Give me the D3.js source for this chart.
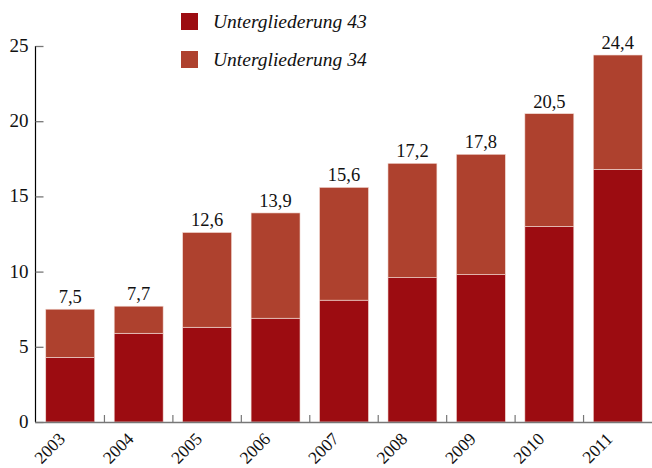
<!DOCTYPE html>
<html>
<head>
<meta charset="utf-8">
<script src="https://cdn.jsdelivr.net/npm/d3@7"></script>
<style>
  body { margin: 0; background: #fff; }
  text { font-family: "Liberation Serif", "DejaVu Serif", serif; fill: #111; }
</style>
</head>
<body>
<script>
const years = ["2003", "2004", "2005", "2006", "2007", "2008", "2009", "2010", "2011"];
const ug43 = [4.3, 5.9, 6.3, 6.9, 8.1, 9.6, 9.8, 13.0, 16.8];
const totals = [7.5, 7.7, 12.6, 13.9, 15.6, 17.2, 17.8, 20.5, 24.4];
const ug34 = totals.map((t, i) => +(t - ug43[i]).toFixed(1));
const yTicks = [0, 5, 10, 15, 20, 25];
const seriesNames = ["Untergliederung 43", "Untergliederung 34"];
const colors = ["#9c0c11", "#ae412e"];

const width = 652, height = 468;
const svg = d3.select("body").append("svg")
  .attr("width", width)
  .attr("height", height);

const x = d3.scaleBand().domain(years).range([36, 652]).paddingInner(0.285).paddingOuter(0.1425);
const y = d3.scaleLinear().domain([0, 25]).range([422, 46]);

const rows = years.map((yr, i) => ({ year: yr, ug43: ug43[i], ug34: ug34[i], total: totals[i] }));
const stack = d3.stack().keys(["ug43", "ug34"])(rows);

svg.append("g").selectAll("g")
  .data(stack)
  .join("g")
  .attr("fill", (d, i) => colors[i])
  .selectAll("rect")
  .data(d => d)
  .join("rect")
  .attr("x", d => x(d.data.year))
  .attr("width", x.bandwidth())
  .attr("y", d => y(d[1]))
  .attr("height", d => y(d[0]) - y(d[1]))
  .attr("stroke", "#f3dcd6")
  .attr("stroke-width", 0.6);

// total labels
svg.append("g").selectAll("text")
  .data(rows)
  .join("text")
  .attr("x", d => x(d.year) + x.bandwidth() / 2)
  .attr("y", d => y(d.total) - 6)
  .attr("text-anchor", "middle")
  .attr("font-size", 18.5)
  .text(d => d3.format(".1f")(d.total).replace(".", ","));

// y axis
const yAxis = svg.append("g").attr("transform", "translate(35.5,0)");
yAxis.append("line")
  .attr("y1", y(25)).attr("y2", y(0))
  .attr("stroke", "#000").attr("stroke-width", 1.2);
yAxis.selectAll(".tick")
  .data(yTicks)
  .join("line")
  .attr("x1", 0).attr("x2", 8)
  .attr("y1", d => y(d) + 0.5).attr("y2", d => y(d) + 0.5)
  .attr("stroke", "#777").attr("stroke-width", 1.3);
yAxis.selectAll("text")
  .data(yTicks)
  .join("text")
  .attr("x", -7)
  .attr("y", d => y(d) + 6)
  .attr("text-anchor", "end")
  .attr("font-size", 19)
  .text(d => d);

// x axis
const xAxis = svg.append("g");
xAxis.append("line")
  .attr("x1", 35).attr("x2", 652)
  .attr("y1", 422.5).attr("y2", 422.5)
  .attr("stroke", "#777").attr("stroke-width", 1.5);
const bounds = years.slice(1).map(yr => x(yr) - x.step() * x.paddingInner() / 2);
xAxis.selectAll(".tick")
  .data(bounds)
  .join("line")
  .attr("x1", d => d).attr("x2", d => d)
  .attr("y1", 422).attr("y2", 415)
  .attr("stroke", "#777").attr("stroke-width", 1.2);
xAxis.selectAll("text")
  .data(years)
  .join("text")
  .attr("transform", d => `translate(${x(d) + x.bandwidth() / 2 - 4},440) rotate(-45)`)
  .attr("text-anchor", "end")
  .attr("font-size", 17.5)
  .text(d => d);

// legend
const legend = svg.append("g").attr("transform", "translate(181,13)");
seriesNames.forEach((name, i) => {
  const g = legend.append("g").attr("transform", `translate(0,${i * 38})`);
  g.append("rect")
    .attr("width", 17).attr("height", 17)
    .attr("fill", colors[i]);
  g.append("text")
    .attr("x", 32).attr("y", 15)
    .attr("font-size", 19.5)
    .attr("font-style", "italic")
    .text(name);
});
</script>
</body>
</html>
